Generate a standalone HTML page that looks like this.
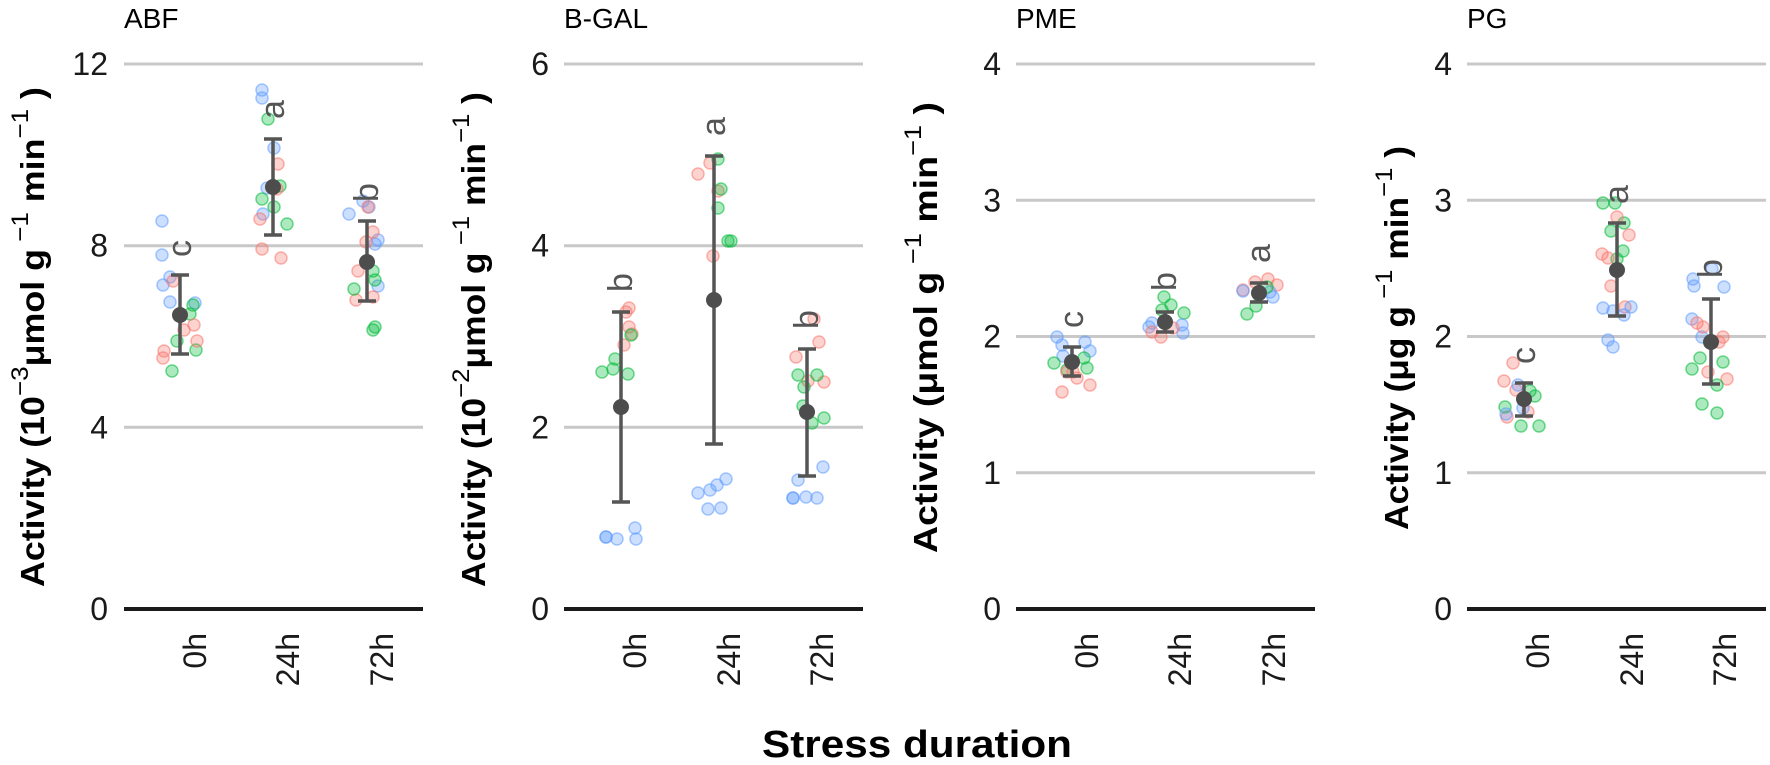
<!DOCTYPE html>
<html><head><meta charset="utf-8"><style>
body{margin:0;background:#fff}
svg{display:block;font-family:"Liberation Sans",Arial,sans-serif}
.g{stroke:#c8c8c8;stroke-width:3}
.ax{stroke:#1a1a1a;stroke-width:4}
.r,.gr,.b{stroke-width:1.5;fill-opacity:.32;stroke-opacity:.55}
.r{fill:#F8766D;stroke:#F8766D}.gr{fill:#00BA38;stroke:#00BA38}.b{fill:#619CFF;stroke:#619CFF}
.eb{stroke:#555;stroke-width:3.5;fill:none}
.m{fill:#4d4d4d}
.tk{font-size:32px;fill:#1a1a1a;text-anchor:end;dominant-baseline:central}
.xl{font-size:32px;fill:#1a1a1a;text-anchor:end}
.lt{font-size:34px;fill:#555}
.pt{font-size:28px;fill:#000}
.yt{font-size:33px;font-weight:bold;fill:#000}
</style></head><body>
<svg width="1770" height="765" viewBox="0 0 1770 765">
<g><line class="g" x1="124" x2="423" y1="64" y2="64"/><line class="g" x1="124" x2="423" y1="245.7" y2="245.7"/><line class="g" x1="124" x2="423" y1="427.3" y2="427.3"/><line class="ax" x1="124" x2="423" y1="609" y2="609"/>
<line class="g" x1="564" x2="863" y1="64" y2="64"/><line class="g" x1="564" x2="863" y1="245.7" y2="245.7"/><line class="g" x1="564" x2="863" y1="427.3" y2="427.3"/><line class="ax" x1="564" x2="863" y1="609" y2="609"/>
<line class="g" x1="1016" x2="1315" y1="64" y2="64"/><line class="g" x1="1016" x2="1315" y1="200.3" y2="200.3"/><line class="g" x1="1016" x2="1315" y1="336.5" y2="336.5"/><line class="g" x1="1016" x2="1315" y1="472.8" y2="472.8"/><line class="ax" x1="1016" x2="1315" y1="609" y2="609"/>
<line class="g" x1="1467" x2="1766" y1="64" y2="64"/><line class="g" x1="1467" x2="1766" y1="200.3" y2="200.3"/><line class="g" x1="1467" x2="1766" y1="336.5" y2="336.5"/><line class="g" x1="1467" x2="1766" y1="472.8" y2="472.8"/><line class="ax" x1="1467" x2="1766" y1="609" y2="609"/></g>

<text class="tk" x="108" y="64">12</text><text class="tk" x="108" y="245.7">8</text><text class="tk" x="108" y="427.3">4</text><text class="tk" x="108" y="609">0</text>
<text class="tk" x="549" y="64">6</text><text class="tk" x="549" y="245.7">4</text><text class="tk" x="549" y="427.3">2</text><text class="tk" x="549" y="609">0</text>
<text class="tk" x="1001" y="64">4</text><text class="tk" x="1001" y="200.3">3</text><text class="tk" x="1001" y="336.5">2</text><text class="tk" x="1001" y="472.8">1</text><text class="tk" x="1001" y="609">0</text>
<text class="tk" x="1452" y="64">4</text><text class="tk" x="1452" y="200.3">3</text><text class="tk" x="1452" y="336.5">2</text><text class="tk" x="1452" y="472.8">1</text><text class="tk" x="1452" y="609">0</text>

<text class="pt" x="124" y="28">ABF</text><text class="pt" x="564" y="28">B-GAL</text><text class="pt" x="1016" y="28">PME</text><text class="pt" x="1467" y="28">PG</text>

<text class="yt" transform="translate(44,587) rotate(-90)" textLength="500" lengthAdjust="spacingAndGlyphs">Activity (10<tspan font-size="24" font-weight="normal" dy="-16">−3</tspan><tspan dy="16">μmol g</tspan><tspan font-size="24" font-weight="normal" dy="-16"> −1</tspan><tspan dy="16">  min</tspan><tspan font-size="24" font-weight="normal" dy="-16">−1</tspan><tspan dy="16"> )</tspan></text>
<text class="yt" transform="translate(485,587) rotate(-90)" textLength="495" lengthAdjust="spacingAndGlyphs">Activity (10<tspan font-size="24" font-weight="normal" dy="-16">−2</tspan><tspan dy="16">μmol g</tspan><tspan font-size="24" font-weight="normal" dy="-16"> −1</tspan><tspan dy="16">  min</tspan><tspan font-size="24" font-weight="normal" dy="-16">−1</tspan><tspan dy="16"> )</tspan></text>
<text class="yt" transform="translate(937,553) rotate(-90)" textLength="451" lengthAdjust="spacingAndGlyphs">Activity (μmol g<tspan font-size="24" font-weight="normal" dy="-16"> −1</tspan><tspan dy="16">  min</tspan><tspan font-size="24" font-weight="normal" dy="-16">−1</tspan><tspan dy="16"> )</tspan></text>
<text class="yt" transform="translate(1408,530) rotate(-90)" textLength="384" lengthAdjust="spacingAndGlyphs">Activity (μg g<tspan font-size="24" font-weight="normal" dy="-16"> −1</tspan><tspan dy="16">  min</tspan><tspan font-size="24" font-weight="normal" dy="-16">−1</tspan><tspan dy="16"> )</tspan></text>

<text class="xl" transform="translate(206,633) rotate(-90)">0h</text><text class="xl" transform="translate(299,633) rotate(-90)">24h</text><text class="xl" transform="translate(393,633) rotate(-90)">72h</text>
<text class="xl" transform="translate(646,633) rotate(-90)">0h</text><text class="xl" transform="translate(740,633) rotate(-90)">24h</text><text class="xl" transform="translate(833,633) rotate(-90)">72h</text>
<text class="xl" transform="translate(1098,633) rotate(-90)">0h</text><text class="xl" transform="translate(1191,633) rotate(-90)">24h</text><text class="xl" transform="translate(1285,633) rotate(-90)">72h</text>
<text class="xl" transform="translate(1549,633) rotate(-90)">0h</text><text class="xl" transform="translate(1643,633) rotate(-90)">24h</text><text class="xl" transform="translate(1736,633) rotate(-90)">72h</text>

<text x="917" y="757" font-size="38" font-weight="bold" text-anchor="middle" textLength="310" lengthAdjust="spacingAndGlyphs">Stress duration</text>

<g>
<circle class="b" cx="162" cy="221" r="6"/><circle class="b" cx="162" cy="255" r="6"/><circle class="b" cx="170" cy="277" r="6"/><circle class="b" cx="163" cy="285" r="6"/><circle class="b" cx="170" cy="302" r="6"/><circle class="b" cx="195" cy="303" r="6"/>
<circle class="gr" cx="193" cy="305" r="6"/><circle class="gr" cx="190" cy="314" r="6"/><circle class="gr" cx="177" cy="341" r="6"/><circle class="gr" cx="196" cy="350" r="6"/><circle class="gr" cx="172" cy="371" r="6"/>
<circle class="r" cx="173" cy="281" r="6"/><circle class="r" cx="194" cy="325" r="6"/><circle class="r" cx="184" cy="330" r="6"/><circle class="r" cx="197" cy="341" r="6"/><circle class="r" cx="164" cy="351" r="6"/><circle class="r" cx="163" cy="358" r="6"/>
<circle class="b" cx="262" cy="90" r="6"/><circle class="b" cx="262" cy="98" r="6"/><circle class="b" cx="274" cy="148" r="6"/><circle class="b" cx="267" cy="188" r="6"/><circle class="b" cx="263" cy="214" r="6"/>
<circle class="gr" cx="268" cy="119" r="6"/><circle class="gr" cx="280" cy="186" r="6"/><circle class="gr" cx="262" cy="199" r="6"/><circle class="gr" cx="274" cy="207" r="6"/><circle class="gr" cx="287" cy="224" r="6"/>
<circle class="r" cx="278" cy="164" r="6"/><circle class="r" cx="277" cy="189" r="6"/><circle class="r" cx="260" cy="219" r="6"/><circle class="r" cx="262" cy="249" r="6"/><circle class="r" cx="281" cy="258" r="6"/>
<circle class="b" cx="349" cy="214" r="6"/><circle class="b" cx="363" cy="201" r="6"/><circle class="b" cx="369" cy="207" r="6"/><circle class="b" cx="378" cy="240" r="6"/><circle class="b" cx="375" cy="244" r="6"/><circle class="b" cx="378" cy="286" r="6"/>
<circle class="r" cx="368" cy="207" r="6"/><circle class="r" cx="373" cy="232" r="6"/><circle class="r" cx="366" cy="242" r="6"/><circle class="r" cx="358" cy="271" r="6"/><circle class="r" cx="356" cy="300" r="6"/><circle class="r" cx="373" cy="297" r="6"/>
<circle class="gr" cx="373" cy="271" r="6"/><circle class="gr" cx="375" cy="280" r="6"/><circle class="gr" cx="354" cy="289" r="6"/><circle class="gr" cx="373" cy="330" r="6"/><circle class="gr" cx="375" cy="327" r="6"/>

<circle class="r" cx="629" cy="308" r="6"/><circle class="r" cx="626" cy="312" r="6"/><circle class="r" cx="629" cy="327" r="6"/><circle class="r" cx="632" cy="334" r="6"/><circle class="r" cx="624" cy="345" r="6"/>
<circle class="gr" cx="615" cy="359" r="6"/><circle class="gr" cx="602" cy="372" r="6"/><circle class="gr" cx="613" cy="369" r="6"/><circle class="gr" cx="628" cy="374" r="6"/><circle class="gr" cx="631" cy="335" r="6"/>
<circle class="b" cx="606" cy="537" r="6"/><circle class="b" cx="606" cy="537" r="6"/><circle class="b" cx="617" cy="539" r="6"/><circle class="b" cx="635" cy="528" r="6"/><circle class="b" cx="636" cy="539" r="6"/>
<circle class="r" cx="698" cy="174" r="6"/><circle class="r" cx="710" cy="163" r="6"/><circle class="r" cx="718" cy="191" r="6"/><circle class="r" cx="713" cy="256" r="6"/>
<circle class="gr" cx="718" cy="159" r="6"/><circle class="gr" cx="721" cy="189" r="6"/><circle class="gr" cx="718" cy="208" r="6"/><circle class="gr" cx="728" cy="241" r="6"/><circle class="gr" cx="731" cy="241" r="6"/>
<circle class="b" cx="698" cy="493" r="6"/><circle class="b" cx="710" cy="490" r="6"/><circle class="b" cx="717" cy="485" r="6"/><circle class="b" cx="726" cy="479" r="6"/><circle class="b" cx="708" cy="509" r="6"/><circle class="b" cx="721" cy="508" r="6"/>
<circle class="r" cx="814" cy="319" r="6"/><circle class="r" cx="819" cy="342" r="6"/><circle class="r" cx="796" cy="357" r="6"/><circle class="r" cx="808" cy="381" r="6"/><circle class="r" cx="824" cy="382" r="6"/>
<circle class="gr" cx="798" cy="375" r="6"/><circle class="gr" cx="817" cy="375" r="6"/><circle class="gr" cx="804" cy="387" r="6"/><circle class="gr" cx="803" cy="406" r="6"/><circle class="gr" cx="824" cy="418" r="6"/><circle class="gr" cx="812" cy="423" r="6"/>
<circle class="b" cx="823" cy="467" r="6"/><circle class="b" cx="798" cy="480" r="6"/><circle class="b" cx="793" cy="498" r="6"/><circle class="b" cx="793" cy="498" r="6"/><circle class="b" cx="806" cy="497" r="6"/><circle class="b" cx="817" cy="498" r="6"/>

<circle class="b" cx="1057" cy="337" r="6"/><circle class="b" cx="1062" cy="345" r="6"/><circle class="b" cx="1085" cy="342" r="6"/><circle class="b" cx="1090" cy="351" r="6"/><circle class="b" cx="1063" cy="356" r="6"/>
<circle class="gr" cx="1054" cy="363" r="6"/><circle class="gr" cx="1084" cy="358" r="6"/><circle class="gr" cx="1087" cy="368" r="6"/><circle class="gr" cx="1067" cy="370" r="6"/>
<circle class="r" cx="1067" cy="372" r="6"/><circle class="r" cx="1077" cy="378" r="6"/><circle class="r" cx="1090" cy="385" r="6"/><circle class="r" cx="1062" cy="392" r="6"/><circle class="r" cx="1073" cy="372" r="6"/>
<circle class="gr" cx="1164" cy="297" r="6"/><circle class="gr" cx="1171" cy="305" r="6"/><circle class="gr" cx="1184" cy="313" r="6"/><circle class="gr" cx="1162" cy="310" r="6"/>
<circle class="b" cx="1152" cy="323" r="6"/><circle class="b" cx="1182" cy="325" r="6"/><circle class="b" cx="1183" cy="333" r="6"/><circle class="b" cx="1149" cy="327" r="6"/>
<circle class="r" cx="1152" cy="332" r="6"/><circle class="r" cx="1161" cy="337" r="6"/><circle class="r" cx="1173" cy="328" r="6"/>
<circle class="r" cx="1255" cy="282" r="6"/><circle class="r" cx="1268" cy="279" r="6"/><circle class="r" cx="1277" cy="285" r="6"/><circle class="r" cx="1243" cy="290" r="6"/>
<circle class="b" cx="1243" cy="291" r="6"/><circle class="b" cx="1270" cy="292" r="6"/><circle class="b" cx="1273" cy="297" r="6"/>
<circle class="gr" cx="1256" cy="306" r="6"/><circle class="gr" cx="1247" cy="314" r="6"/><circle class="gr" cx="1267" cy="287" r="6"/>

<circle class="r" cx="1513" cy="363" r="6"/><circle class="r" cx="1504" cy="381" r="6"/><circle class="r" cx="1516" cy="390" r="6"/><circle class="r" cx="1528" cy="412" r="6"/><circle class="r" cx="1507" cy="417" r="6"/>
<circle class="gr" cx="1535" cy="396" r="6"/><circle class="gr" cx="1505" cy="407" r="6"/><circle class="gr" cx="1521" cy="426" r="6"/><circle class="gr" cx="1539" cy="426" r="6"/><circle class="gr" cx="1530" cy="391" r="6"/>
<circle class="b" cx="1518" cy="385" r="6"/><circle class="b" cx="1506" cy="414" r="6"/><circle class="b" cx="1523" cy="408" r="6"/>
<circle class="gr" cx="1603" cy="203" r="6"/><circle class="gr" cx="1615" cy="203" r="6"/><circle class="gr" cx="1624" cy="223" r="6"/><circle class="gr" cx="1611" cy="231" r="6"/><circle class="gr" cx="1623" cy="251" r="6"/><circle class="gr" cx="1617" cy="259" r="6"/>
<circle class="r" cx="1617" cy="217" r="6"/><circle class="r" cx="1629" cy="235" r="6"/><circle class="r" cx="1602" cy="254" r="6"/><circle class="r" cx="1608" cy="258" r="6"/><circle class="r" cx="1611" cy="286" r="6"/><circle class="r" cx="1625" cy="307" r="6"/>
<circle class="b" cx="1603" cy="308" r="6"/><circle class="b" cx="1631" cy="307" r="6"/><circle class="b" cx="1613" cy="311" r="6"/><circle class="b" cx="1624" cy="315" r="6"/><circle class="b" cx="1608" cy="340" r="6"/><circle class="b" cx="1613" cy="347" r="6"/>
<circle class="b" cx="1712" cy="269" r="6"/><circle class="b" cx="1693" cy="279" r="6"/><circle class="b" cx="1694" cy="286" r="6"/><circle class="b" cx="1724" cy="287" r="6"/><circle class="b" cx="1692" cy="319" r="6"/><circle class="b" cx="1702" cy="337" r="6"/>
<circle class="r" cx="1697" cy="323" r="6"/><circle class="r" cx="1703" cy="327" r="6"/><circle class="r" cx="1723" cy="337" r="6"/><circle class="r" cx="1719" cy="342" r="6"/><circle class="r" cx="1708" cy="372" r="6"/><circle class="r" cx="1727" cy="379" r="6"/>
<circle class="gr" cx="1700" cy="358" r="6"/><circle class="gr" cx="1692" cy="369" r="6"/><circle class="gr" cx="1723" cy="362" r="6"/><circle class="gr" cx="1717" cy="385" r="6"/><circle class="gr" cx="1702" cy="404" r="6"/><circle class="gr" cx="1717" cy="413" r="6"/>
</g>

<path class="eb" d="M180 275V354M171 275H189M171 354H189 M273 139V235M264 139H282M264 235H282 M367 221V301M358 221H376M358 301H376
M621 312V502M612 312H630M612 502H630 M714 156V444M705 156H723M705 444H723 M807 349V476M798 349H816M798 476H816
M1072 347V376M1063 347H1081M1063 376H1081 M1165 312V332M1156 312H1174M1156 332H1174 M1259 283V302M1250 283H1268M1250 302H1268
M1524 383V416M1515 383H1533M1515 416H1533 M1617 223V316M1608 223H1626M1608 316H1626 M1711 299V384M1702 299H1720M1702 384H1720"/>
<g class="m"><circle cx="180" cy="315" r="8"/><circle cx="273" cy="187" r="8"/><circle cx="367" cy="262" r="8"/>
<circle cx="621" cy="407" r="8"/><circle cx="714" cy="300" r="8"/><circle cx="807" cy="412" r="8"/>
<circle cx="1072" cy="362" r="8"/><circle cx="1165" cy="322" r="8"/><circle cx="1259" cy="293" r="8"/>
<circle cx="1524" cy="399" r="8"/><circle cx="1617" cy="270" r="8"/><circle cx="1711" cy="342" r="8"/></g>

<text class="lt" transform="translate(191,257) rotate(-90)">c</text>
<text class="lt" transform="translate(284,119) rotate(-90)">a</text>
<text class="lt" transform="translate(378,202) rotate(-90)">b</text>
<text class="lt" transform="translate(632,292) rotate(-90)">b</text>
<text class="lt" transform="translate(725,136) rotate(-90)">a</text>
<text class="lt" transform="translate(818,329) rotate(-90)">b</text>
<text class="lt" transform="translate(1083,328) rotate(-90)">c</text>
<text class="lt" transform="translate(1176,291) rotate(-90)">b</text>
<text class="lt" transform="translate(1270,263) rotate(-90)">a</text>
<text class="lt" transform="translate(1535,364) rotate(-90)">c</text>
<text class="lt" transform="translate(1628,204) rotate(-90)">a</text>
<text class="lt" transform="translate(1722,278) rotate(-90)">b</text>
</svg>
</body></html>
